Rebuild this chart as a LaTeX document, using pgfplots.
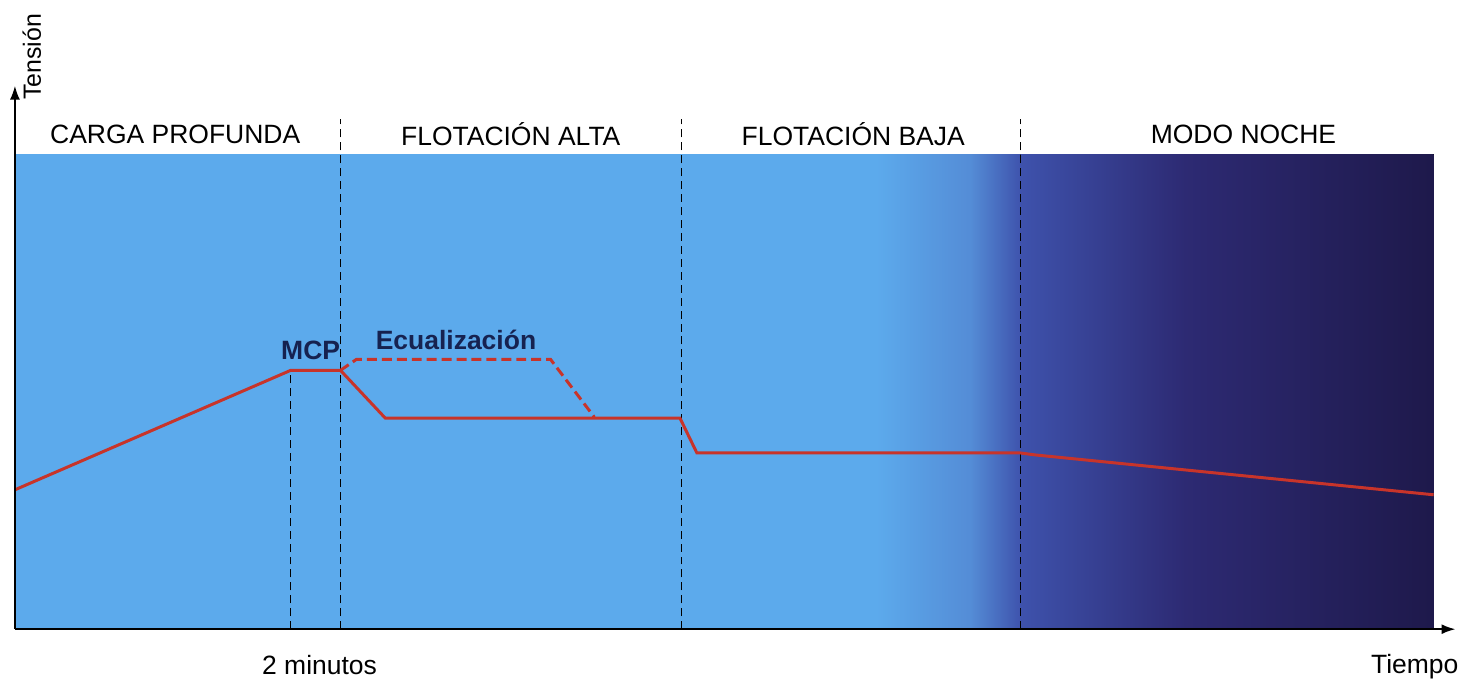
\documentclass[border=0pt]{standalone}
\usepackage{pgfplots}
\pgfplotsset{compat=1.18}
\usepackage{fontspec}
\setmainfont{Liberation Sans}
\usetikzlibrary{arrows.meta}
\definecolor{sky}{RGB}{92,170,236}
\definecolor{sky2}{RGB}{84,140,214}
\definecolor{midblue}{RGB}{62,82,172}
\definecolor{deepblue}{RGB}{45,42,115}
\definecolor{night}{RGB}{30,25,75}
\definecolor{curve}{RGB}{200,52,42}
\definecolor{labnavy}{RGB}{22,34,80}

\begin{document}
\begin{tikzpicture}
\begin{axis}[
    scale only axis,
    width=723.5pt, height=273pt,
    xmin=15, xmax=1462,
    ymin=0, ymax=546,
    axis lines=left,
    axis line style={line width=1pt, -{Latex[length=7pt,width=5pt]}},
    xtick=\empty, ytick=\empty,
    clip=false,
    axis on top,
]
% background bands
\fill[sky] (axis cs:15,0) rectangle (axis cs:881,477);
\fill[left color=sky, right color=sky2] (axis cs:880,0) rectangle (axis cs:976,477);
\fill[left color=sky2, right color=midblue] (axis cs:975,0) rectangle (axis cs:1026,477);
\fill[left color=midblue, right color=deepblue] (axis cs:1025,0) rectangle (axis cs:1191,477);
\fill[left color=deepblue, right color=night] (axis cs:1190,0) rectangle (axis cs:1440,477);

% phase separators
\addplot[black, line width=0.5pt, dash pattern=on 4pt off 2.5pt] coordinates {(292,0) (292,260)};
\addplot[black, line width=0.5pt, dash pattern=on 4pt off 2.5pt] coordinates {(342,0) (342,512)};
\addplot[black, line width=0.5pt, dash pattern=on 4pt off 2.5pt] coordinates {(685,0) (685,512)};
\addplot[black, line width=0.5pt, dash pattern=on 4pt off 2.5pt] coordinates {(1025,0) (1025,512)};

% voltage curve
\addplot[curve, line width=1.5pt] coordinates {
    (15,140) (292,260) (342,260) (387,212) (683,212)
    (700,177) (1025,177) (1040,175) (1440,135)
};
% equalisation branch
\addplot[curve, line width=1.5pt, dash pattern=on 5pt off 2.5pt] coordinates {
    (342,260) (358,271) (553,271) (597,213)
};

% phase names
\node[font=\fontsize{13.3}{16}\selectfont] at (axis cs:176,497) {CARGA PROFUNDA};
\node[font=\fontsize{13.3}{16}\selectfont] at (axis cs:513,497) {FLOTACIÓN ALTA};
\node[font=\fontsize{13.3}{16}\selectfont] at (axis cs:857,497) {FLOTACIÓN BAJA};
\node[font=\fontsize{13.3}{16}\selectfont] at (axis cs:1249,497) {MODO NOCHE};

\node[font=\fontsize{13.3}{16}\selectfont\bfseries, text=labnavy] at (axis cs:312,280) {MCP};
\node[font=\fontsize{13.3}{16}\selectfont\bfseries, text=labnavy] at (axis cs:458,291) {Ecualización};

\node[font=\fontsize{13.3}{16}\selectfont] at (axis cs:321,-36) {2 minutos};
\node[font=\fontsize{13.3}{16}\selectfont] at (axis cs:1421,-38) {Tiempo};
\node[font=\fontsize{12.5}{15}\selectfont, rotate=90] at (axis cs:32,575) {Tensión};

\path (axis cs:0,-51) rectangle (axis cs:1465,632);
\end{axis}
\end{tikzpicture}
\end{document}
